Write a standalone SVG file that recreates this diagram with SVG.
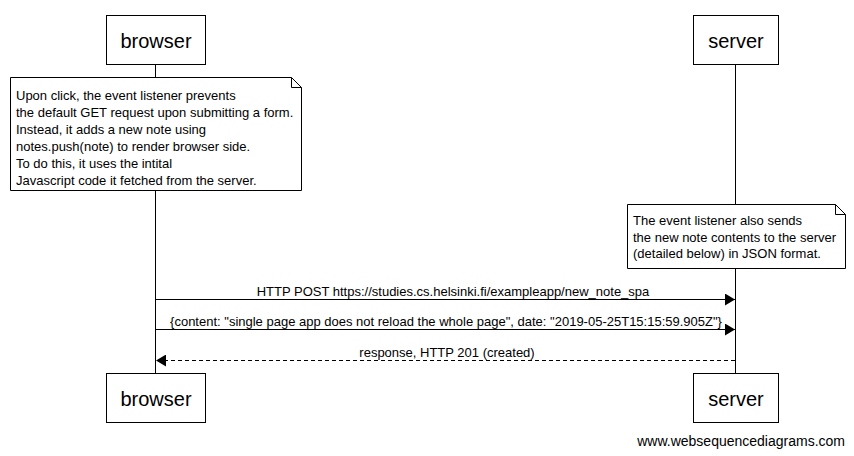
<svg xmlns="http://www.w3.org/2000/svg" width="854" height="456" viewBox="0 0 854 456">
<style>
text{font-family:"Liberation Sans",Arial,sans-serif;fill:#000}
.actor rect{fill:#fff;stroke:#000;stroke-width:1}
.actor text{font-size:20px;text-anchor:middle}
.life{stroke:#000;stroke-width:1}
.note path{fill:#fff;stroke:#000;stroke-width:1}
.note text{font-size:13px}
.msg{stroke:#000;stroke-width:1;fill:none}
.lbl{font-size:13px;text-anchor:middle}
</style>
<defs>
<marker id="ah" viewBox="0 0 10 12" refX="10" refY="6" markerWidth="10" markerHeight="12" markerUnits="userSpaceOnUse" orient="auto">
<path d="M0,0 L10,6 L0,12 Z" fill="#000"/>
</marker>
</defs>
<rect width="854" height="456" fill="#fff"/>
<g id="lifelines">
<line class="life" x1="155.5" y1="64" x2="155.5" y2="373"/>
<line class="life" x1="735.5" y1="64" x2="735.5" y2="373"/>
</g>
<g id="browser-top" class="actor">
<rect x="106.5" y="15.5" width="99" height="49"/>
<text x="156" y="48">browser</text>
</g>
<g id="server-top" class="actor">
<rect x="693.5" y="15.5" width="85" height="49"/>
<text x="736" y="48">server</text>
</g>
<g id="note-browser" class="note">
<path d="M10.5,77.5 H291.5 L301.5,87.5 V190.5 H10.5 Z M291.5,77.5 V87.5 H301.5"/>
<text x="16" y="100">Upon click, the event listener prevents</text>
<text x="16" y="117">the default GET request upon submitting a form.</text>
<text x="16" y="134">Instead, it adds a new note using</text>
<text x="16" y="151">notes.push(note) to render browser side.</text>
<text x="16" y="168">To do this, it uses the intital</text>
<text x="16" y="185">Javascript code it fetched from the server.</text>
</g>
<g id="note-server" class="note">
<path d="M627.5,204.5 H835.5 L845.5,214.5 V268.5 H627.5 Z M835.5,204.5 V214.5 H845.5"/>
<text x="633" y="225">The event listener also sends</text>
<text x="633" y="242">the new note contents to the server</text>
<text x="633" y="258">(detailed below) in JSON format.</text>
</g>
<g id="connectors">
<line class="msg" x1="155" y1="299.5" x2="735" y2="299.5" marker-end="url(#ah)"/>
<text class="lbl" x="453" y="296">HTTP POST https://studies.cs.helsinki.fi/exampleapp/new_note_spa</text>
<line class="msg" x1="155" y1="329.5" x2="735" y2="329.5" marker-end="url(#ah)"/>
<text class="lbl" x="446" y="326">{content: "single page app does not reload the whole page", date: "2019-05-25T15:15:59.905Z"}</text>
<line class="msg" x1="735" y1="360.5" x2="156" y2="360.5" stroke-dasharray="4,3" marker-end="url(#ah)"/>
<text class="lbl" x="447" y="357">response, HTTP 201 (created)</text>
</g>
<g id="browser-bottom" class="actor">
<rect x="106.5" y="373.5" width="99" height="49"/>
<text x="156" y="406">browser</text>
</g>
<g id="server-bottom" class="actor">
<rect x="693.5" y="373.5" width="85" height="49"/>
<text x="736" y="406">server</text>
</g>
<text x="845" y="446" font-size="14" text-anchor="end">www.websequencediagrams.com</text>
</svg>
